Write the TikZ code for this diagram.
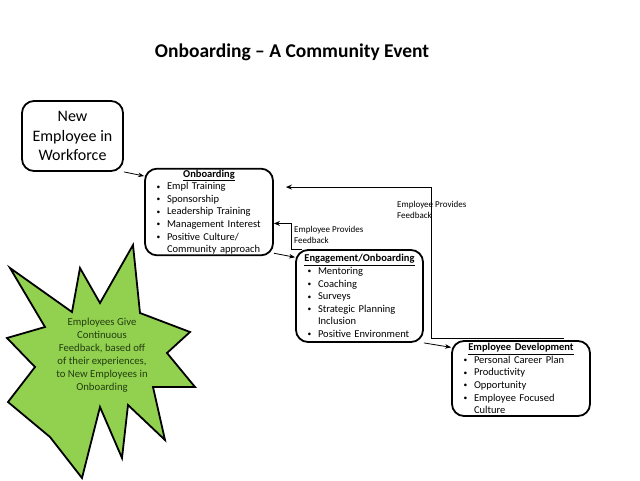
\documentclass[tikz,border=0pt]{standalone}
\usepackage{fontspec}
\setmainfont{Carlito}
\usetikzlibrary{arrows.meta}
\definecolor{starfill}{RGB}{146,208,80}
\definecolor{startext}{RGB}{35,62,15}
\newcommand{\boxhead}[1]{{\centering\bfseries\underline{#1}\par}}
\newcommand{\bitem}[1]{\par\noindent\makebox[14pt][l]{\hspace{3.5pt}\raisebox{0.6pt}{\fontsize{7.5}{7.5}\selectfont\textbullet}}#1}
\newcommand{\bcont}[1]{\par\noindent\hspace*{14pt}#1}
\begin{document}
\begin{tikzpicture}[x=1pt,y=-1pt,
  listbox/.style={draw,line width=1.8pt,rounded corners=12pt,inner xsep=8pt,inner ysep=1pt,
    align=left,font=\fontsize{10.5}{12.6}\selectfont},
  flow/.style={-{Stealth[length=6pt,width=4.5pt]},line width=0.8pt},
  fback/.style={-{Stealth[length=6pt,width=5pt]},line width=1.1pt},
  fblabel/.style={align=left,inner sep=0pt,font=\fontsize{9}{11}\selectfont}]
\useasboundingbox (0,0) rectangle (640,480);
\node[font=\fontsize{19.5}{23}\selectfont\bfseries] (title) at (292,52) {Onboarding -- A Community Event};
%
\node[draw,line width=1.8pt,rounded corners=12pt,minimum width=101pt,minimum height=70pt,
  align=center,font=\fontsize{16}{19.2}\selectfont] (newemp) at (72.5,136) {New\\Employee in\\Workforce};
\node[listbox,text width=112pt,minimum height=86pt] (onb) at (209,212) {\boxhead{Onboarding}
  \bitem{Empl Training}
  \bitem{Sponsorship}
  \bitem{Leadership Training}
  \bitem{Management Interest}
  \bitem{Positive Culture/}
  \bcont{Community approach}};
\node[listbox,text width=111pt,minimum height=92pt] (eng) at (359.5,296) {\boxhead{Engagement/Onboarding}
  \bitem{Mentoring}
  \bitem{Coaching}
  \bitem{Surveys}
  \bitem{Strategic Planning}
  \bcont{Inclusion}
  \bitem{Positive Environment}};
\node[listbox,text width=122pt,minimum height=75pt] (dev) at (521,378.5) {\boxhead{Employee Development}
  \bitem{Personal Career Plan}
  \bitem{Productivity}
  \bitem{Opportunity}
  \bitem{Employee Focused}
  \bcont{Culture}};
%
\draw[flow] (newemp.south east) -- (onb.151);
\draw[flow] ([yshift=3pt]onb.south east) -- (eng.149);
\draw[flow] (eng.south east) -- (dev.156);
%
\draw[fback] ([xshift=7pt]eng.north west) -- ++(-11,0) |- (onb.-10);
\node[fblabel,anchor=west] (fb1) at (294,234.5) {Employee Provides\\Feedback};
\draw[fback,shorten >=12pt] ([xshift=-27pt,yshift=2pt]dev.north east) -- ++(-132,0) |- (onb.21);
\node[fblabel,anchor=west] (fb2) at (397,209.5) {Employee Provides\\Feedback};
%
\draw[line width=1.8pt,fill=starfill] (133,245) -- (140,313) -- (190,332) -- (167,353) -- (195,387)
  -- (153,387) -- (165,440) -- (128,405) -- (122,458) -- (100,407) -- (82,478) -- (50,437)
  -- (8,402) -- (35,367) -- (7,338) -- (45,327) -- (10,268) -- (72,312) -- (80,268) -- (100,303) -- cycle;
\node[align=center,text=startext,font=\fontsize{10.7}{13}\selectfont] (startxt) at (102,355)
  {Employees Give\\Continuous\\Feedback, based off\\of their experiences,\\to New Employees in\\Onboarding};
\end{tikzpicture}
\end{document}
